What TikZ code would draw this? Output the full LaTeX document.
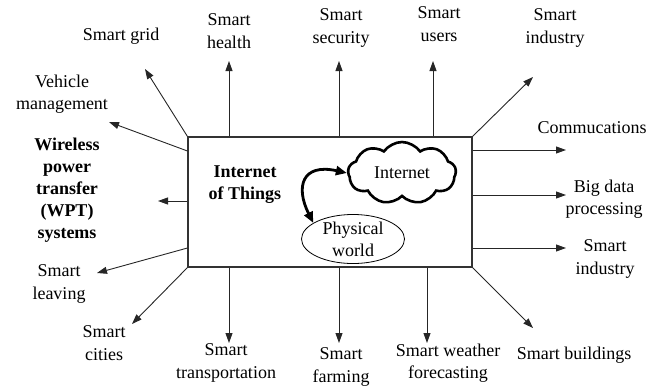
\documentclass[tikz,border=0pt]{standalone}
\usepackage{fontspec}
\setmainfont{Liberation Serif}
\usetikzlibrary{arrows.meta,shapes.geometric,shapes.symbols,calc}
\begin{document}
\begin{tikzpicture}[x=1pt,y=-1pt,
  lbl/.style={align=center,inner sep=0pt,font=\fontsize{18}{22.5}\selectfont},
  blbl/.style={lbl,font=\fontsize{18}{22}\selectfont\bfseries},
  arr/.style={draw=black!85,line width=0.9pt,-{Triangle[length=10pt,width=7pt]}},
  dbl/.style={line width=2.8pt,{Triangle[length=11pt,width=9pt]}-{Triangle[length=11pt,width=9pt]}},
  box/.style={draw=black!80,line width=1.1pt,minimum width=284pt,minimum height=130pt,inner sep=0pt}]
\useasboundingbox (0,0) rectangle (666,388);
\node[box] (iot) at (330,202) {};
\node[blbl] (iotl) at (245,185) {Internet\\of Things};
\node[cloud,cloud puffs=9,cloud puff arc=110,cloud ignores aspect,draw,line width=2.6pt,minimum width=108pt,minimum height=62pt,inner sep=0pt,font=\fontsize{18}{22}\selectfont] (net) at (402,173) {Internet};
\node[ellipse,draw,line width=0.8pt,minimum width=103pt,minimum height=48pt,inner sep=0pt,align=center,font=\fontsize{18}{22}\selectfont] (phys) at (353,239) {Physical\\world};
\draw[dbl] (phys.158) .. controls +(-18,-36) and +(-45,-10) .. (net.west);

% labels
\node[lbl] (grid) at (121,36) {Smart grid};
\node[lbl] (health) at (229,31) {Smart\\health};
\node[lbl] (secu) at (341,28) {Smart\\security};
\node[lbl] (users) at (439,24) {Smart\\users};
\node[lbl] (indtop) at (555,28) {Smart\\industry};
\node[lbl] (vehi) at (62,94) {Vehicle\\management};
\node[blbl] (wpt) at (67,190) {Wireless\\power\\transfer\\(WPT)\\systems};
\node[lbl] (leav) at (59,284) {Smart\\leaving};
\node[lbl] (cities) at (104,343) {Smart\\cities};
\node[lbl] (trans) at (226,363) {Smart\\transportation};
\node[lbl] (farm) at (341,367) {Smart\\farming};
\node[lbl] (weather) at (448,363) {Smart weather\\forecasting};
\node[lbl] (build) at (574,355) {Smart buildings};
\node[lbl] (indlow) at (605,259) {Smart\\industry};
\node[lbl] (bigd) at (604,199) {Big data\\processing};
\node[lbl] (comm) at (592,128) {Commucations};

% arrow tips
\coordinate (tGrid) at (145,69);
\coordinate (tHealth) at (229,61);
\coordinate (tSecu) at (339,61);
\coordinate (tUsers) at (433,61);
\coordinate (tInd) at (533,77);
\coordinate (tVehi) at (109,122);
\coordinate (tWpt) at (158,201);
\coordinate (tLeav) at (97,273);
\coordinate (tCities) at (132,324);
\coordinate (tTrans) at (229,343);
\coordinate (tFarm) at (339,343);
\coordinate (tWeather) at (427,343);
\coordinate (tBuild) at (533,328);
\coordinate (tIndLow) at (566,248);
\coordinate (tBig) at (566,195);
\coordinate (tComm) at (566,150);

\draw[arr] (iot.north west) -- (tGrid);
\draw[arr] (iot.north -| tHealth) -- (tHealth);
\draw[arr] (iot.north -| tSecu) -- (tSecu);
\draw[arr] (iot.north -| tUsers) -- (tUsers);
\draw[arr] (iot.north east) -- (tInd);
\draw[arr] (iot.west |- 0,151) -- (tVehi);
\draw[arr] (iot.west |- tWpt) -- (tWpt);
\draw[arr] (iot.west |- 0,248) -- (tLeav);
\draw[arr] (iot.south west) -- (tCities);
\draw[arr] (iot.south -| tTrans) -- (tTrans);
\draw[arr] (iot.south -| tFarm) -- (tFarm);
\draw[arr] (iot.south -| tWeather) -- (tWeather);
\draw[arr] (iot.south east) -- (tBuild);
\draw[arr] (iot.east |- tIndLow) -- (tIndLow);
\draw[arr] (iot.east |- tBig) -- (tBig);
\draw[arr] (iot.east |- tComm) -- (tComm);
\end{tikzpicture}
\end{document}
